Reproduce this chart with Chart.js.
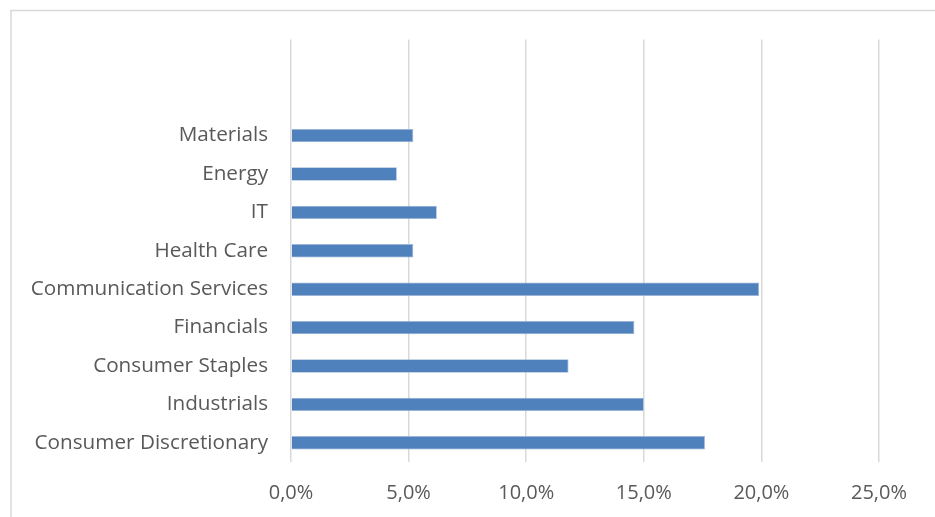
<!DOCTYPE html>
<html lang="en">

<head>
    <meta charset="UTF-8">
    <title>Sector weights</title>
    <script src="https://cdn.jsdelivr.net/npm/chart.js"></script>
    <style>
        html, body { margin: 0; padding: 0; background: #ffffff; }
        .chart-box { position: relative; width: 935px; height: 517px; }
    </style>
</head>

<body>
    <div class="chart-box">
        <canvas id="chart1"></canvas>
    </div>
</body>

</html>

<script>
    // top to bottom (two empty slots at the top, like the original)
    const setores = ['', '', 'Materials', 'Energy', 'IT', 'Health Care', 'Communication Services',
        'Financials', 'Consumer Staples', 'Industrials', 'Consumer Discretionary'];
    const pesos = [null, null, 5.2, 4.5, 6.2, 5.2, 19.9, 14.6, 11.8, 15.0, 17.6];
    const ticksX = [0, 5, 10, 15, 20, 25];

    // moldura cinza em volta do gráfico
    const moldura = {
        id: 'moldura',
        beforeDraw(chart) {
            const ctx = chart.ctx;
            ctx.save();
            ctx.fillStyle = '#ffffff';
            ctx.fillRect(0, 0, chart.width, chart.height);
            ctx.strokeStyle = '#d9d9d9';
            ctx.lineWidth = 1.5;
            ctx.strokeRect(11, 10.5, chart.width + 20, chart.height + 20);
            ctx.restore();
        }
    };

    new Chart(document.getElementById("chart1"), {
        type: 'bar',
        data: {
            labels: setores,
            datasets: [{
                data: pesos,
                backgroundColor: '#4f81bd',
                borderColor: '#9db5d8',
                borderWidth: 0.8,
                barPercentage: 0.35,
                categoryPercentage: 1
            }]
        },
        options: {
            indexAxis: 'y',
            responsive: true,
            maintainAspectRatio: false,
            animation: false,
            layout: {
                padding: { left: 0, right: 56, top: 39.6, bottom: 0 }
            },
            plugins: {
                legend: { display: false },
                tooltip: { enabled: false }
            },
            scales: {
                x: {
                    min: 0,
                    max: 25,
                    afterBuildTicks: (scale) => { scale.ticks = ticksX.map(v => ({ value: v })); },
                    afterFit: (scale) => { scale.height = 55; },
                    grid: { color: '#d9d9d9', lineWidth: 1.5, drawTicks: false },
                    border: { display: false },
                    ticks: {
                        padding: 19,
                        color: '#595959',
                        font: { family: 'Open Sans', size: 20 },
                        callback: (v) => Number(v).toFixed(1).replace('.', ',') + '%'
                    }
                },
                y: {
                    afterFit: (scale) => { scale.width = 291; },
                    grid: { display: false, drawTicks: false },
                    border: { display: false },
                    ticks: {
                        padding: 23,
                        color: '#595959',
                        autoSkip: false,
                        font: { family: 'Open Sans', size: 20.7 }
                    }
                }
            }
        },
        plugins: [moldura]
    });
</script>
